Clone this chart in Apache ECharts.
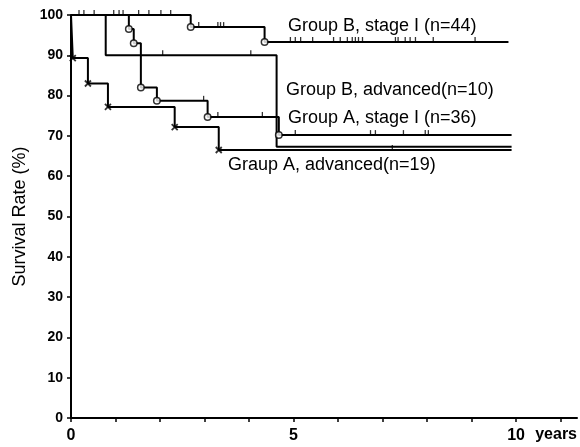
<!DOCTYPE html>
<html>
<head>
<meta charset="utf-8">
<script src="https://cdn.jsdelivr.net/npm/echarts@6/dist/echarts.min.js"></script>
<style>html,body{margin:0;padding:0;background:#fff}#c{width:580px;height:447px}</style>
</head>
<body>
<div id="c"></div>
<script>
// Kaplan-Meier step curves: times (years) and survival (%)
const bStageT = [0, 2.69, 4.35, 9.83];
const bStageS = [100, 97.0, 93.3, 93.3];
const bStageCens = [0.18, 0.29, 0.52, 0.96, 1.08, 1.17, 1.52, 1.75, 2.02, 2.24, 2.87, 3.30, 3.36, 3.43,
  4.93, 5.04, 5.16, 5.43, 5.90, 6.05, 6.21, 6.32, 6.39, 6.46, 6.55, 7.29, 7.35, 7.51, 7.62, 7.74, 8.14, 9.08];

const bAdvT = [0, 0.78, 4.62, 9.9];
const bAdvS = [100, 90.0, 67.3, 67.3];
const bAdvCens = [2.06, 4.04];

const aStageT = [0, 1.30, 1.41, 1.57, 1.93, 3.07, 4.67, 9.9];
const aStageS = [100, 96.5, 93.0, 82.0, 78.7, 74.7, 70.2, 70.2];
const aStageCens = [2.98, 3.30, 4.30, 5.04, 6.73, 6.84, 7.47, 7.96, 8.03];

const aAdvT = [0, 0.04, 0.38, 0.83, 2.33, 3.32, 9.9];
const aAdvS = [100, 89.3, 83.0, 77.2, 72.2, 66.5, 66.5];
const aAdvCens = [7.22];

const xTickLabels = ['0', '5', '10'];
const yTicks = [0, 10, 20, 30, 40, 50, 60, 70, 80, 90, 100];

const labels = [
  {text: 'Group B, stage I (n=44)', x: 288, y: 26},
  {text: 'Group B, advanced(n=10)', x: 286, y: 90},
  {text: 'Group A, stage I (n=36)', x: 288, y: 118},
  {text: 'Graup A, advanced(n=19)', x: 228, y: 165}
];

function pts(T, S) { return T.map((t, i) => [t, S[i]]); }
function events(T, S) { return T.slice(1, T.length - 1).map((t, i) => [t, S[i + 1]]); }
function survAt(T, S, t) { let v = S[0]; for (let i = 0; i < T.length; i++) { if (T[i] <= t) v = S[i]; } return v; }
function cens(T, S, C) { return C.map(t => [t, survAt(T, S, t)]); }

const lineBase = {type: 'line', step: 'end', showSymbol: false, silent: true,
  lineStyle: {color: '#000', width: 2}, z: 2};
const censBase = {type: 'scatter', symbol: 'rect', symbolSize: [1.3, 5], symbolOffset: [0, -2.5],
  itemStyle: {color: '#000'}, z: 3, silent: true};
const circBase = {type: 'scatter', symbol: 'circle', symbolSize: 6.5,
  itemStyle: {color: '#fff', borderColor: '#000', borderWidth: 1.5}, z: 4, silent: true};
const crossPath = 'path://M0,0L10,10M10,0L0,10';

const chart = echarts.init(document.getElementById('c'));
chart.setOption({
  animation: false,
  grid: {left: 71, right: 2, top: 15, bottom: 29},
  xAxis: {
    type: 'value', min: 0, max: 11.37, interval: 1,
    axisLine: {show: true, lineStyle: {color: '#000', width: 2}},
    axisTick: {show: true, length: 4, inside: false, lineStyle: {color: '#000', width: 1.5}},
    splitLine: {show: false},
    axisLabel: {
      margin: 10, color: '#000', fontSize: 16, fontWeight: 'bold', fontFamily: 'Liberation Sans, Arial',
      showMaxLabel: false,
      formatter: v => (xTickLabels.indexOf(String(v)) >= 0 ? String(v) : '')
    },
    name: 'years', nameLocation: 'end', nameGap: 0,
    nameTextStyle: {color: '#000', fontSize: 16, fontWeight: 'bold', fontFamily: 'Liberation Sans, Arial',
      align: 'right', verticalAlign: 'top', padding: [9, 0, 0, 0]}
  },
  yAxis: {
    type: 'value', min: 0, max: 100, interval: 10,
    axisLine: {show: true, lineStyle: {color: '#000', width: 2}},
    axisTick: {show: true, length: 4, inside: false, lineStyle: {color: '#000', width: 1.5}},
    splitLine: {show: false},
    axisLabel: {margin: 8, color: '#000', fontSize: 14, fontWeight: 'bold', fontFamily: 'Liberation Sans, Arial',
      formatter: v => (yTicks.indexOf(v) >= 0 ? String(v) : '')},
    name: 'Survival Rate (%)', nameLocation: 'middle', nameGap: 41,
    nameTextStyle: {color: '#000', fontSize: 18, fontFamily: 'Liberation Sans, Arial'}
  },
  graphic: labels.map(l => ({
    type: 'text', x: l.x, y: l.y, silent: true,
    style: {text: l.text, fill: '#000', font: '18px "Liberation Sans", Arial', textVerticalAlign: 'middle'}
  })),
  series: [
    Object.assign({}, lineBase, {name: 'Group B, stage I', data: pts(bStageT, bStageS)}),
    Object.assign({}, lineBase, {name: 'Group B, advanced', data: pts(bAdvT, bAdvS)}),
    Object.assign({}, lineBase, {name: 'Group A, stage I', data: pts(aStageT, aStageS)}),
    Object.assign({}, lineBase, {name: 'Graup A, advanced', data: pts(aAdvT, aAdvS)}),
    Object.assign({}, censBase, {data: cens(bStageT, bStageS, bStageCens)}),
    Object.assign({}, censBase, {data: cens(bAdvT, bAdvS, bAdvCens)}),
    Object.assign({}, censBase, {data: cens(aStageT, aStageS, aStageCens)}),
    Object.assign({}, censBase, {data: cens(aAdvT, aAdvS, aAdvCens)}),
    Object.assign({}, circBase, {data: events(bStageT, bStageS)}),
    Object.assign({}, circBase, {data: events(aStageT, aStageS)}),
    {type: 'scatter', symbol: crossPath, symbolSize: 6, z: 4, silent: true,
      itemStyle: {color: 'none', borderColor: '#000', borderWidth: 1.8},
      data: events(aAdvT, aAdvS)}
  ]
});
</script>
</body>
</html>
